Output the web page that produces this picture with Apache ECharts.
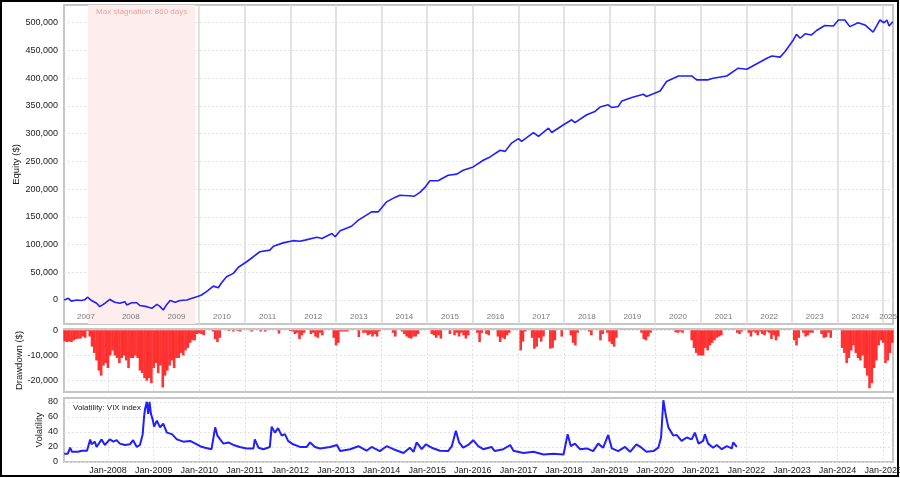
<!DOCTYPE html>
<html><head><meta charset="utf-8">
<script src="https://cdn.jsdelivr.net/npm/echarts@6/dist/echarts.min.js"></script>
<style>html,body{margin:0;padding:0;background:#fff}#c{width:900px;height:478px}</style>
</head><body><div id="c"></div>
<script>
// ---- time range (decimal years) ----
const axisStart = 2007.035, axisEnd = 2025.215;
const stagnationStart = 2007.561, stagnationEnd = 2009.916;
const stagnationLabel = 'Max stagnation: 860 days';
const volatilityTitle = 'Volatility: VIX index';

// ---- equity curve ($) ----
const equityYears = [2007.04,2007.13,2007.20,2007.31,2007.42,2007.50,2007.55,2007.64,2007.75,2007.82,2007.93,
2008.04,2008.15,2008.26,2008.37,2008.41,2008.52,2008.63,2008.70,2008.85,2008.96,
2009.07,2009.13,2009.21,2009.29,2009.36,2009.47,2009.58,2009.73,2009.84,2009.95,
2010.05,2010.16,2010.31,2010.42,2010.49,2010.60,2010.75,2010.86,
2011.04,2011.19,2011.33,2011.55,2011.63,2011.84,
2012.06,2012.21,2012.32,2012.58,2012.69,2012.91,2012.98,
2013.09,2013.34,2013.49,2013.78,2013.93,
2014.11,2014.29,2014.40,2014.59,2014.71,2014.84,2014.95,
2015.06,2015.24,2015.46,2015.65,2015.79,
2016.01,2016.23,2016.38,2016.60,2016.71,2016.85,
2017.00,2017.07,2017.33,2017.44,2017.66,2017.73,2017.99,
2018.17,2018.24,2018.50,2018.68,2018.79,2018.97,
2019.05,2019.19,2019.27,2019.49,2019.74,2019.81,
2020.11,2020.25,2020.51,2020.80,2020.91,
2021.16,2021.27,2021.57,2021.82,
2022.01,2022.23,2022.45,2022.56,2022.74,2022.85,
2023.03,2023.10,2023.18,2023.29,2023.43,2023.54,2023.72,2023.91,
2024.02,2024.16,2024.27,2024.45,2024.60,2024.78,2024.93,
2025.02,2025.08,2025.13,2025.21];
const equityValues = [0,3000,-2000,0,-1000,1000,5000,-1000,-6000,-12000,-6000,
1000,-4000,-6000,-3000,-9000,-5000,-5000,-10000,-12000,-15000,
-8000,-11000,-18000,-8000,-1000,-4000,-1000,0,3000,6000,
9000,15000,25000,22000,31000,42000,48000,59000,
69000,78000,87000,90000,97000,103000,
107000,106000,108000,113000,111000,120000,114000,
125000,133000,144000,159000,159000,
177000,185000,189000,188000,187000,194000,203000,
215000,215000,225000,227000,234000,
240000,252000,258000,270000,268000,283000,
291000,286000,302000,295000,310000,302000,316000,
325000,320000,334000,340000,348000,352000,
347000,349000,359000,365000,371000,367000,
377000,394000,404000,404000,397000,
397000,400000,404000,418000,
416000,426000,436000,440000,438000,448000,
469000,479000,472000,480000,478000,486000,495000,494000,
505000,505000,493000,500000,496000,483000,505000,
500000,505000,494000,502000];

// ---- drawdown ($), one bar every 0.05 year starting 2007.05 ----
const ddStartYear = 2007.05, ddStepYears = 0.05;
const ddValues = [
-4400,-4700,-4500,-4700,-4000,-3500,-3300,-3300,-2500,-3000,-300,-2500,-6500,-9000,-12000,-16000,-18000,-14000,-13000,-15000,
-10000,-8000,-10000,-11000,-13000,-11000,-10000,-12000,-15000,-11000,-11000,-10000,-11000,-16000,-17000,-19000,-20000,-19000,-21000,-15000,
-13000,-17000,-14000,-22700,-18000,-16000,-14000,-12000,-15000,-11000,-11000,-9000,-10000,-8000,-7000,-5000,-4000,-4000,-1500,-1200,
-1500,-2000,0,0,0,-500,-3500,-4700,-3000,0,0,0,-300,0,-500,0,-300,-500,0,0,
0,0,-500,0,0,0,-500,0,-500,0,0,0,0,0,-1300,0,0,0,0,-300,
-500,-1500,-1000,-3500,-2000,-1000,0,0,-1500,-1000,-2500,-3000,-1000,-2000,0,0,0,0,-3000,-6000,
-5000,-500,-500,-500,-500,0,0,0,0,-2700,0,-1000,-1000,-2000,-1500,-2500,-1500,-2500,-500,0,
0,0,0,0,-1000,-2500,0,0,-500,-1500,-2500,-3000,-3300,-2500,-2500,-1500,0,0,0,0,
0,-1500,-2000,-3000,-2000,-3300,0,0,0,-1500,0,-2000,-1000,-2500,-1000,-2000,-3300,-2000,0,0,
0,-1000,-4700,-1000,0,-1500,-2000,0,0,0,-2500,-4700,-3000,-3500,-2000,-1000,0,0,0,0,
-8000,-4500,-500,0,0,-3000,-7300,-6500,-3000,-4500,-2500,0,0,-7300,-7000,-4000,0,0,-2500,0,
0,0,-2000,-5000,-6000,-1000,0,0,0,0,-500,-2000,0,0,0,-4000,-1500,0,-1000,-4500,
-5500,-6500,-3000,0,0,0,0,0,0,0,0,0,0,-1000,-3500,-4000,-2500,-1000,0,0,
0,0,0,0,0,0,0,0,-800,-1000,-500,-1000,0,0,0,-4000,-7000,-9000,-10000,-10000,
-10000,-7000,-8000,-6000,-5000,-4000,-3000,-2500,-2000,0,0,0,0,0,0,-1000,-1500,-500,0,0,
-1000,-2500,-500,-1000,-2000,-500,-1500,-2000,-500,-1000,-3500,-2000,-4000,-2500,0,0,0,0,0,0,
-4000,-6000,-3000,0,-1000,-2500,-2000,-1000,-1000,0,0,0,-1500,-3000,-2700,-1000,-3000,0,0,0,
0,-7000,-9000,-13000,-11000,-8000,-6000,-9000,-11000,-12000,-10000,-15000,-18000,-23000,-21000,-15000,-12000,-6000,-4000,-5000,
-13000,-12000,-9000,-5000];

// ---- VIX index ----
const vixYears = [2007.04,2007.12,2007.17,2007.21,2007.34,2007.43,2007.54,2007.61,2007.64,2007.71,2007.75,2007.86,2007.93,
2008.04,2008.12,2008.19,2008.26,2008.37,2008.48,2008.55,2008.63,2008.70,2008.76,2008.79,2008.81,2008.85,2008.88,2008.91,2008.94,2008.98,
2009.01,2009.07,2009.14,2009.21,2009.29,2009.40,2009.51,2009.65,2009.80,2009.95,
2010.02,2010.13,2010.27,2010.35,2010.40,2010.46,2010.53,2010.64,2010.75,2010.89,
2011.04,2011.19,2011.22,2011.30,2011.41,2011.55,2011.59,2011.66,2011.73,2011.81,2011.88,2011.95,
2012.06,2012.21,2012.36,2012.43,2012.54,2012.65,2012.87,
2013.02,2013.09,2013.31,2013.49,2013.67,2013.78,2013.96,
2014.11,2014.26,2014.48,2014.62,2014.70,2014.77,2014.88,2014.97,
2015.10,2015.28,2015.46,2015.54,2015.63,2015.70,2015.79,2015.90,
2016.01,2016.12,2016.23,2016.41,2016.48,2016.67,2016.82,2016.89,
2017.11,2017.33,2017.55,2017.77,2017.99,
2018.08,2018.15,2018.24,2018.35,2018.50,2018.64,2018.75,2018.79,2018.86,2018.97,
2019.05,2019.19,2019.34,2019.45,2019.59,2019.70,2019.81,2019.96,
2020.07,2020.13,2020.18,2020.24,2020.29,2020.40,2020.47,2020.58,2020.69,2020.80,2020.87,2020.95,
2021.05,2021.09,2021.16,2021.27,2021.35,2021.46,2021.57,2021.68,2021.71,2021.79];
const vixValues = [11,11,19,13.5,13.5,15,15,30,23.5,27,20,30,22.6,
30,27,29,24.4,22.6,23.5,29,20,22.6,37,60,70,80,64,80,64,56,
47,55,46,51,39,37,30,27,28,23.5,
21,19,17,46,35,30,24.4,26,22.6,20,
18,18,30,19,17,20,47,39,45,35,37,28,
23.5,20,20,26,20,18,20,
22.6,14.5,17,21,15,20,14.5,
21,17,12,19,13.5,26,17,23.5,
19,15,14.5,21,41.6,26,19,22.6,
29,21,17,20,14.5,17,22.6,15,
12,13.5,10,11,10,
37,21,24.4,17,18,14.5,24.4,22.6,19,36,
18,14.5,20,13.5,23.5,19,13.5,14.5,
19,32.6,82,60,46,35,36,28,32.6,30,39,24.4,
28,37,24.4,19,22.6,17,21,18,26,20];

// ---- axes ----
const equityTicks = [0,50000,100000,150000,200000,250000,300000,350000,400000,450000,500000];
const ddTicks = [0,-10000,-20000];
const vixTicks = [0,20,40,60,80];
const yearLabels = [2007,2008,2009,2010,2011,2012,2013,2014,2015,2016,2017,2018,2019,2020,2021,2022,2023,2024,2025];
const janYears = [2008,2009,2010,2011,2012,2013,2014,2015,2016,2017,2018,2019,2020,2021,2022,2023,2024,2025];

function yt(y){const Y=Math.floor(y+1e-9);const a=Date.UTC(Y,0,1),b=Date.UTC(Y+1,0,1);return a+(y-Y)*(b-a);}
const tMin = yt(axisStart), tMax = yt(axisEnd);
const janTs = janYears.map(y=>Date.UTC(y,0,1));
const yearMid = yearLabels.map(y=>(Math.max(Date.UTC(y,0,1),tMin)+Math.min(Date.UTC(y+1,0,1),tMax))/2);
const ddYears = ddValues.map((v,i)=>ddStartYear+i*ddStepYears);
const fmt = v => Number(v).toLocaleString('en-US');
const FONT = '"Liberation Sans", Arial, sans-serif';
const GRID_LINE = '#e2e2e2';
const BLUE = '#1f1fff';
const NAME_STYLE = {fontSize:9.5, color:'#1a1a1a'};

const chart = echarts.init(document.getElementById('c'));
const baseX = {type:'value', min:tMin, max:tMax, scale:true, axisLine:{show:false}};
const gridBase = {left:64, right:7, show:true, borderColor:'#c6c6c6', borderWidth:2, containLabel:false, outerBoundsMode:'none'};
chart.setOption({
  animation:false,
  backgroundColor:'#fff',
  textStyle:{fontFamily:FONT},
  title:{text:volatilityTitle, left:68, top:399, textStyle:{fontSize:8, fontWeight:'normal', color:'#222', fontFamily:FONT}},
  graphic:[{type:'rect', shape:{x:1,y:1,width:897,height:475}, style:{fill:null, stroke:'#000', lineWidth:2}, silent:true}],
  grid:[
    Object.assign({}, gridBase, {top:5, height:319}),
    Object.assign({}, gridBase, {top:329, height:63}),
    Object.assign({}, gridBase, {top:398, height:64})
  ],
  xAxis:[
    Object.assign({}, baseX, {gridIndex:0, axisLabel:{show:false}, axisTick:{show:false, customValues:janTs},
      splitLine:{show:true, lineStyle:{color:'#d9d9d9', width:1.5, type:'solid'}}}),
    Object.assign({}, baseX, {gridIndex:0, position:'bottom', z:10, splitLine:{show:false}, axisTick:{show:false, customValues:yearMid},
      axisLabel:{show:true, inside:true, margin:3, customValues:yearMid, fontSize:8, color:'#7a7a7a', hideOverlap:false, showMinLabel:true, showMaxLabel:true,
        formatter:v=>{let bi=0,bd=Infinity;yearMid.forEach((m,i)=>{const d=Math.abs(m-v);if(d<bd){bd=d;bi=i;}});return String(yearLabels[bi]);}}}),
    Object.assign({}, baseX, {gridIndex:1, axisLabel:{show:false}, axisTick:{show:false, customValues:janTs},
      splitLine:{show:true, lineStyle:{color:GRID_LINE, width:1, type:[2,2]}}}),
    Object.assign({}, baseX, {gridIndex:2, axisTick:{show:false, customValues:janTs},
      axisLabel:{show:true, margin:4, customValues:janTs, fontSize:9, color:'#1a1a1a', hideOverlap:false,
        formatter:v=>'Jan-'+new Date(Number(v)).getUTCFullYear()},
      splitLine:{show:true, lineStyle:{color:GRID_LINE, width:1, type:[2,2]}}})
  ],
  yAxis:[
    {type:'value', gridIndex:0, min:-43300, max:532000, name:'Equity ($)', nameLocation:'middle', nameGap:43, nameMoveOverlap:false,
      nameTextStyle:NAME_STYLE, axisLine:{show:false}, axisTick:{show:false, customValues:equityTicks},
      axisLabel:{customValues:equityTicks, fontSize:9, color:'#1a1a1a', margin:6, formatter:fmt},
      splitLine:{show:true, lineStyle:{color:GRID_LINE, type:[2,2]}}},
    {type:'value', gridIndex:1, min:-24500, max:500, name:'Drawdown ($)', nameLocation:'middle', nameGap:40, nameMoveOverlap:false,
      nameTextStyle:NAME_STYLE, axisLine:{show:false}, axisTick:{show:false, customValues:ddTicks},
      axisLabel:{customValues:ddTicks, fontSize:9, color:'#1a1a1a', margin:6, formatter:fmt},
      splitLine:{show:true, lineStyle:{color:GRID_LINE, type:[2,2]}}},
    {type:'value', gridIndex:2, min:0, max:85, name:'Volatility', nameLocation:'middle', nameGap:20, nameMoveOverlap:false,
      nameTextStyle:NAME_STYLE, axisLine:{show:false}, axisTick:{show:false, customValues:vixTicks},
      axisLabel:{customValues:vixTicks, fontSize:9, color:'#1a1a1a', margin:6},
      splitLine:{show:true, lineStyle:{color:GRID_LINE, type:[2,2]}}}
  ],
  series:[
    {type:'line', name:'Equity', xAxisIndex:0, yAxisIndex:0, showSymbol:false, symbol:'none',
      data:equityYears.map((y,i)=>[yt(y), equityValues[i]]),
      lineStyle:{color:BLUE, width:1.6}, itemStyle:{color:BLUE}, z:5,
      markArea:{silent:true, z:1, itemStyle:{color:'#fdeded'},
        label:{show:true, position:'insideTop', distance:3, fontSize:8, color:'#f2a0a0'},
        data:[[{xAxis:yt(stagnationStart), name:stagnationLabel},{xAxis:yt(stagnationEnd)}]]}},
    {type:'bar', name:'Drawdown', xAxisIndex:2, yAxisIndex:1, barWidth:2.6,
      data:ddYears.map((y,i)=>[yt(y), ddValues[i]]),
      itemStyle:{color:'#ff1c1c', opacity:0.9}},
    {type:'line', name:'VIX', xAxisIndex:3, yAxisIndex:2, showSymbol:false, symbol:'none',
      data:vixYears.map((y,i)=>[yt(y), vixValues[i]]),
      lineStyle:{color:BLUE, width:2}, itemStyle:{color:BLUE}}
  ]
});
</script></body></html>
